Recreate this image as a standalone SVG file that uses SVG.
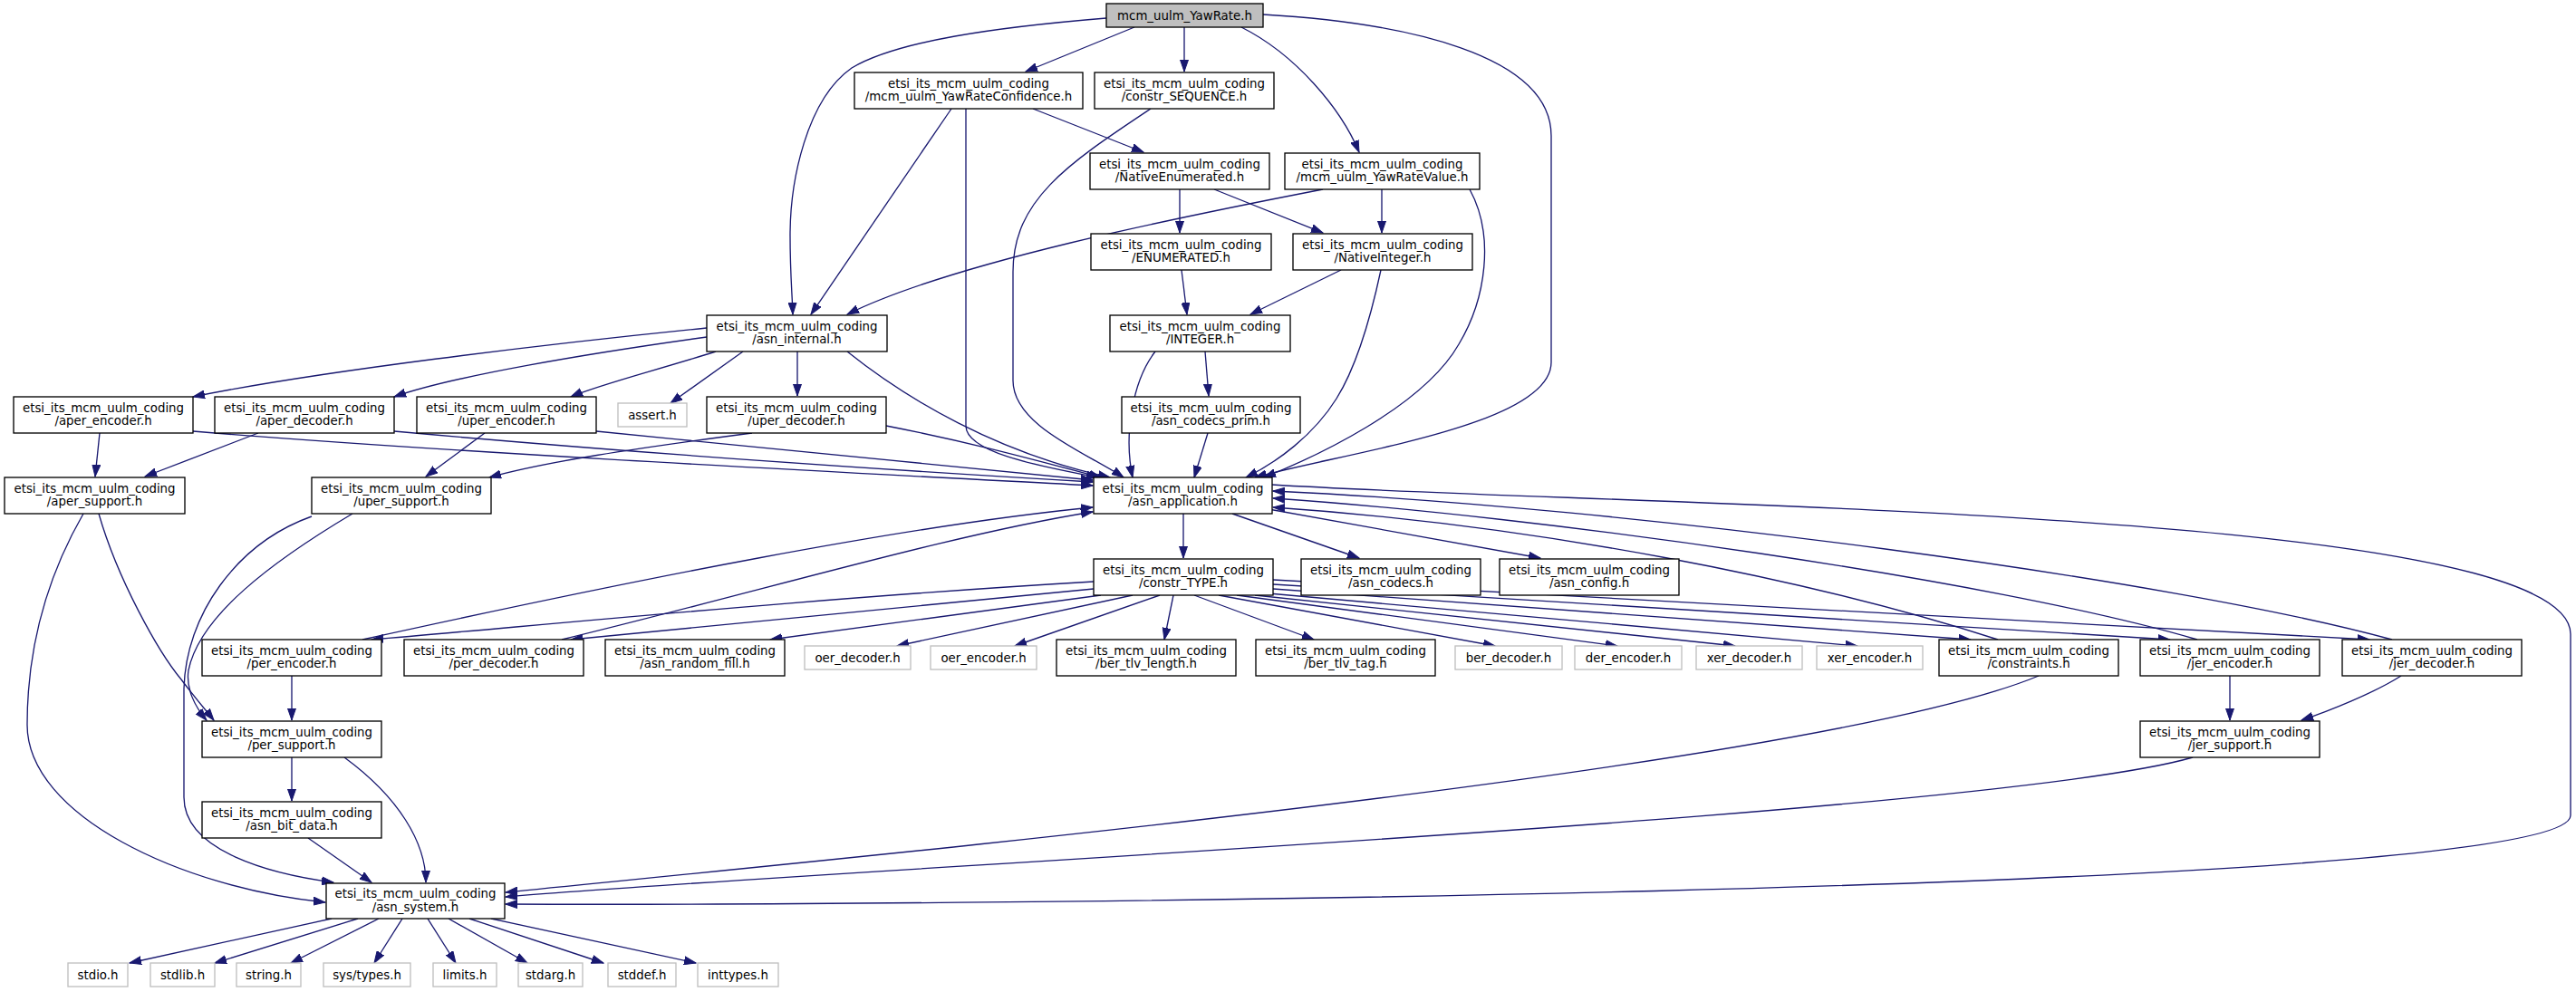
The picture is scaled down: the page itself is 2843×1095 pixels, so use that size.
<svg xmlns="http://www.w3.org/2000/svg" width="2843" height="1095" viewBox="0 0 2843 1095">
<defs>
<marker id="a" markerUnits="userSpaceOnUse" markerWidth="14" markerHeight="10" refX="13" refY="5" orient="auto"><path d="M0,0.5 L13,5 L0,9.5 z" fill="#191970" stroke="#191970" stroke-width="1"/></marker>
</defs>
<style>
rect{fill:#fff;stroke:#000;stroke-width:1.33}
.leaf rect{stroke:#bfbfbf}
.root rect{fill:#bfbfbf}
text{font-family:"DejaVu Sans","Liberation Sans",sans-serif;font-size:13.33px;text-anchor:middle;fill:#000}
#edges path{fill:none;stroke:#191970;stroke-width:1.33;marker-end:url(#a)}
</style>
<rect x="0" y="0" width="2843" height="1095" style="fill:#fff;stroke:none"/>
<g id="edges">
<path d="M1252,30 L1132,79"/>
<path d="M1307,30 L1307,79"/>
<path d="M1370,30 C1430,60 1480,120 1500,168"/>
<path d="M1221,20 C1100,30 990,45 940,75 C890,110 872,200 872,260 C872,300 874,320 875,347"/>
<path d="M1394,16 C1550,25 1712,60 1712,150 L1712,400 C1712,470 1480,500 1385,527"/>
<path d="M1140,120 L1262,168"/>
<path d="M1050,120 L895,347"/>
<path d="M1066,120 L1066,470 C1066,500 1150,515 1212,527"/>
<path d="M1270,120 C1180,180 1118,220 1118,300 L1118,420 C1118,470 1200,500 1240,527"/>
<path d="M1302,209 L1302,257"/>
<path d="M1340,209 L1460,257"/>
<path d="M1525,209 L1525,257"/>
<path d="M1460,209 C1300,240 1050,290 935,347"/>
<path d="M1622,209 C1650,260 1640,330 1610,380 C1570,450 1450,505 1395,527"/>
<path d="M1304,298 L1310,347"/>
<path d="M1480,298 L1380,347"/>
<path d="M1524,298 C1515,340 1500,400 1475,440 C1450,480 1410,510 1375,527"/>
<path d="M1330,388 L1334,437"/>
<path d="M1275,388 C1250,420 1240,480 1250,527"/>
<path d="M1333,478 L1318,527"/>
<path d="M780,362 C600,380 350,410 213,438"/>
<path d="M780,372 C650,390 500,415 435,438"/>
<path d="M790,388 C720,410 660,425 630,438"/>
<path d="M820,388 L740,445"/>
<path d="M880,388 L880,437"/>
<path d="M935,388 C1000,440 1100,500 1225,527"/>
<path d="M213,476 C500,500 1000,525 1206,536"/>
<path d="M435,476 C700,500 1000,520 1206,532"/>
<path d="M658,476 C850,495 1050,515 1206,530"/>
<path d="M978,470 C1080,490 1150,510 1215,527"/>
<path d="M110,478 L105,526"/>
<path d="M285,478 L160,526"/>
<path d="M535,478 L470,526"/>
<path d="M830,478 C700,495 600,510 540,527"/>
<path d="M92,567 C50,640 30,720 30,800 C30,900 200,980 359,996"/>
<path d="M109,567 C130,640 175,720 200,750 C215,770 228,785 236,795"/>
<path d="M389,567 C300,620 220,680 208,740 C205,760 215,780 228,795"/>
<path d="M344,570 C260,600 205,680 203,760 L203,880 C203,940 300,965 368,974"/>
<path d="M1306,567 L1306,616"/>
<path d="M1360,567 L1500,616"/>
<path d="M1400,562 L1700,616"/>
<path d="M1404,535 C1800,560 2837,560 2837,700 L2837,900 C2837,990 900,1000 558,998"/>
<path d="M1207,642 C900,660 600,690 410,706"/>
<path d="M1207,650 C1000,670 800,690 630,706"/>
<path d="M1215,657 L850,706"/>
<path d="M1250,657 L990,713"/>
<path d="M1280,657 L1120,713"/>
<path d="M1295,657 L1285,706"/>
<path d="M1318,657 L1450,706"/>
<path d="M1345,657 L1650,713"/>
<path d="M1365,657 L1785,713"/>
<path d="M1385,657 L1915,713"/>
<path d="M1400,655 L2050,713"/>
<path d="M1405,650 L2175,706"/>
<path d="M1405,645 L2395,706"/>
<path d="M1405,640 L2615,706"/>
<path d="M400,706 C700,640 1000,580 1206,560"/>
<path d="M620,706 C850,650 1050,590 1206,565"/>
<path d="M2205,706 C2000,640 1700,580 1405,560"/>
<path d="M2425,706 C2200,640 1700,570 1405,550"/>
<path d="M2640,706 C2400,640 1800,560 1405,542"/>
<path d="M322,746 L322,795"/>
<path d="M2461,746 L2461,795"/>
<path d="M2250,746 C2000,850 900,950 558,985"/>
<path d="M2650,746 C2620,765 2570,785 2540,795"/>
<path d="M2420,836 C2200,900 900,960 558,990"/>
<path d="M322,836 L322,884"/>
<path d="M380,836 C440,880 470,930 470,974"/>
<path d="M340,925 L410,974"/>
<path d="M366,1014 L143,1063"/>
<path d="M395,1014 L237,1063"/>
<path d="M418,1014 L321,1063"/>
<path d="M444,1014 L413,1063"/>
<path d="M472,1014 L503,1063"/>
<path d="M495,1014 L582,1063"/>
<path d="M518,1014 L666,1063"/>
<path d="M542,1014 L768,1063"/>
</g>
<g id="root" class="root"><rect x="1221" y="4" width="173" height="26"/><text x="1307.5" y="21.5">mcm_uulm_YawRate.h</text></g>
<g id="conf"><rect x="943" y="80" width="252" height="40"/><text x="1069" y="96.5">etsi_its_mcm_uulm_coding</text><text x="1069" y="111">/mcm_uulm_YawRateConfidence.h</text></g>
<g id="seq"><rect x="1208" y="80" width="198" height="40"/><text x="1307" y="96.5">etsi_its_mcm_uulm_coding</text><text x="1307" y="111">/constr_SEQUENCE.h</text></g>
<g id="nenum"><rect x="1203" y="169" width="198" height="40"/><text x="1302" y="185.5">etsi_its_mcm_uulm_coding</text><text x="1302" y="200">/NativeEnumerated.h</text></g>
<g id="val"><rect x="1418" y="169" width="215" height="40"/><text x="1525.5" y="185.5">etsi_its_mcm_uulm_coding</text><text x="1525.5" y="200">/mcm_uulm_YawRateValue.h</text></g>
<g id="enum"><rect x="1204" y="258" width="199" height="40"/><text x="1303.5" y="274.5">etsi_its_mcm_uulm_coding</text><text x="1303.5" y="289">/ENUMERATED.h</text></g>
<g id="nint"><rect x="1427" y="258" width="198" height="40"/><text x="1526" y="274.5">etsi_its_mcm_uulm_coding</text><text x="1526" y="289">/NativeInteger.h</text></g>
<g id="internal"><rect x="780" y="348" width="199" height="40"/><text x="879.5" y="364.5">etsi_its_mcm_uulm_coding</text><text x="879.5" y="379">/asn_internal.h</text></g>
<g id="int"><rect x="1225" y="348" width="199" height="40"/><text x="1324.5" y="364.5">etsi_its_mcm_uulm_coding</text><text x="1324.5" y="379">/INTEGER.h</text></g>
<g id="aenc"><rect x="15" y="438" width="198" height="40"/><text x="114" y="454.5">etsi_its_mcm_uulm_coding</text><text x="114" y="469">/aper_encoder.h</text></g>
<g id="adec"><rect x="237" y="438" width="198" height="40"/><text x="336" y="454.5">etsi_its_mcm_uulm_coding</text><text x="336" y="469">/aper_decoder.h</text></g>
<g id="uenc"><rect x="460" y="438" width="198" height="40"/><text x="559" y="454.5">etsi_its_mcm_uulm_coding</text><text x="559" y="469">/uper_encoder.h</text></g>
<g id="assert" class="leaf"><rect x="682" y="445" width="76" height="26"/><text x="720" y="462.5">assert.h</text></g>
<g id="udec"><rect x="780" y="438" width="198" height="40"/><text x="879" y="454.5">etsi_its_mcm_uulm_coding</text><text x="879" y="469">/uper_decoder.h</text></g>
<g id="prim"><rect x="1238" y="438" width="197" height="40"/><text x="1336.5" y="454.5">etsi_its_mcm_uulm_coding</text><text x="1336.5" y="469">/asn_codecs_prim.h</text></g>
<g id="asup"><rect x="5" y="527" width="199" height="40"/><text x="104.5" y="543.5">etsi_its_mcm_uulm_coding</text><text x="104.5" y="558">/aper_support.h</text></g>
<g id="usup"><rect x="344" y="527" width="198" height="40"/><text x="443" y="543.5">etsi_its_mcm_uulm_coding</text><text x="443" y="558">/uper_support.h</text></g>
<g id="app"><rect x="1207" y="527" width="197" height="40"/><text x="1305.5" y="543.5">etsi_its_mcm_uulm_coding</text><text x="1305.5" y="558">/asn_application.h</text></g>
<g id="ctype"><rect x="1207" y="617" width="198" height="40"/><text x="1306" y="633.5">etsi_its_mcm_uulm_coding</text><text x="1306" y="648">/constr_TYPE.h</text></g>
<g id="codecs"><rect x="1436" y="617" width="198" height="40"/><text x="1535" y="633.5">etsi_its_mcm_uulm_coding</text><text x="1535" y="648">/asn_codecs.h</text></g>
<g id="config"><rect x="1655" y="617" width="198" height="40"/><text x="1754" y="633.5">etsi_its_mcm_uulm_coding</text><text x="1754" y="648">/asn_config.h</text></g>
<g id="penc"><rect x="223" y="706" width="198" height="40"/><text x="322" y="722.5">etsi_its_mcm_uulm_coding</text><text x="322" y="737">/per_encoder.h</text></g>
<g id="pdec"><rect x="446" y="706" width="198" height="40"/><text x="545" y="722.5">etsi_its_mcm_uulm_coding</text><text x="545" y="737">/per_decoder.h</text></g>
<g id="rfill"><rect x="668" y="706" width="198" height="40"/><text x="767" y="722.5">etsi_its_mcm_uulm_coding</text><text x="767" y="737">/asn_random_fill.h</text></g>
<g id="oerdec" class="leaf"><rect x="888" y="713" width="117" height="26"/><text x="946.5" y="730.5">oer_decoder.h</text></g>
<g id="oerenc" class="leaf"><rect x="1027" y="713" width="117" height="26"/><text x="1085.5" y="730.5">oer_encoder.h</text></g>
<g id="tlvlen"><rect x="1166" y="706" width="198" height="40"/><text x="1265" y="722.5">etsi_its_mcm_uulm_coding</text><text x="1265" y="737">/ber_tlv_length.h</text></g>
<g id="tlvtag"><rect x="1386" y="706" width="198" height="40"/><text x="1485" y="722.5">etsi_its_mcm_uulm_coding</text><text x="1485" y="737">/ber_tlv_tag.h</text></g>
<g id="berdec" class="leaf"><rect x="1606" y="713" width="118" height="26"/><text x="1665" y="730.5">ber_decoder.h</text></g>
<g id="derenc" class="leaf"><rect x="1738" y="713" width="118" height="26"/><text x="1797" y="730.5">der_encoder.h</text></g>
<g id="xerdec" class="leaf"><rect x="1872" y="713" width="117" height="26"/><text x="1930.5" y="730.5">xer_decoder.h</text></g>
<g id="xerenc" class="leaf"><rect x="2005" y="713" width="117" height="26"/><text x="2063.5" y="730.5">xer_encoder.h</text></g>
<g id="constr"><rect x="2140" y="706" width="198" height="40"/><text x="2239" y="722.5">etsi_its_mcm_uulm_coding</text><text x="2239" y="737">/constraints.h</text></g>
<g id="jenc"><rect x="2362" y="706" width="198" height="40"/><text x="2461" y="722.5">etsi_its_mcm_uulm_coding</text><text x="2461" y="737">/jer_encoder.h</text></g>
<g id="jdec"><rect x="2585" y="706" width="198" height="40"/><text x="2684" y="722.5">etsi_its_mcm_uulm_coding</text><text x="2684" y="737">/jer_decoder.h</text></g>
<g id="psup"><rect x="223" y="796" width="198" height="40"/><text x="322" y="812.5">etsi_its_mcm_uulm_coding</text><text x="322" y="827">/per_support.h</text></g>
<g id="jsup"><rect x="2362" y="796" width="198" height="40"/><text x="2461" y="812.5">etsi_its_mcm_uulm_coding</text><text x="2461" y="827">/jer_support.h</text></g>
<g id="bit"><rect x="223" y="885" width="198" height="40"/><text x="322" y="901.5">etsi_its_mcm_uulm_coding</text><text x="322" y="916">/asn_bit_data.h</text></g>
<g id="sys"><rect x="360" y="975" width="197" height="39"/><text x="458.5" y="991">etsi_its_mcm_uulm_coding</text><text x="458.5" y="1005.5">/asn_system.h</text></g>
<g id="stdio" class="leaf"><rect x="75" y="1063" width="66" height="26"/><text x="108" y="1080.5">stdio.h</text></g>
<g id="stdlib" class="leaf"><rect x="166" y="1063" width="71" height="26"/><text x="201.5" y="1080.5">stdlib.h</text></g>
<g id="string" class="leaf"><rect x="261" y="1063" width="71" height="26"/><text x="296.5" y="1080.5">string.h</text></g>
<g id="systypes" class="leaf"><rect x="357" y="1063" width="96" height="26"/><text x="405" y="1080.5">sys/types.h</text></g>
<g id="limits" class="leaf"><rect x="478" y="1063" width="70" height="26"/><text x="513" y="1080.5">limits.h</text></g>
<g id="stdarg" class="leaf"><rect x="572" y="1063" width="71" height="26"/><text x="607.5" y="1080.5">stdarg.h</text></g>
<g id="stddef" class="leaf"><rect x="671" y="1063" width="75" height="26"/><text x="708.5" y="1080.5">stddef.h</text></g>
<g id="inttypes" class="leaf"><rect x="770" y="1063" width="89" height="26"/><text x="814.5" y="1080.5">inttypes.h</text></g>
</svg>
